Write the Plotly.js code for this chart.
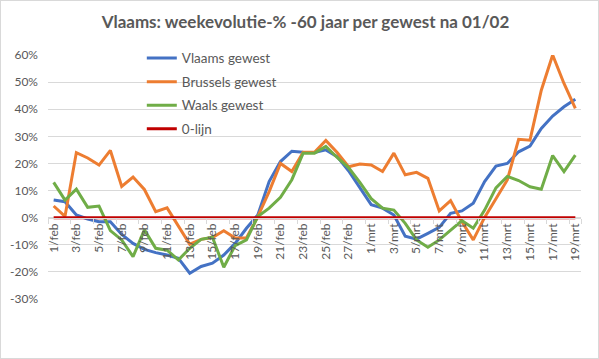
<!DOCTYPE html>
<html>
<head>
<meta charset="utf-8">
<script src="https://cdn.plot.ly/plotly-3.0.1.min.js"></script>
<style>
  html, body { margin: 0; padding: 0; background: #fff; }
  #wrap { position: relative; width: 599px; height: 359px; }
  #chart { width: 599px; height: 359px; }
  #frame { position: absolute; left: 0; top: 0; width: 599px; height: 359px; box-sizing: border-box; border: 1px solid #d9d9d9; pointer-events: none; }
</style>
</head>
<body>
<div id="wrap"><div id="chart"></div><div id="frame"></div></div>
<script>
const dates = ["1/feb","2/feb","3/feb","4/feb","5/feb","6/feb","7/feb","8/feb","9/feb","10/feb",
  "11/feb","12/feb","13/feb","14/feb","15/feb","16/feb","17/feb","18/feb","19/feb","20/feb",
  "21/feb","22/feb","23/feb","24/feb","25/feb","26/feb","27/feb","28/feb",
  "1/mrt","2/mrt","3/mrt","4/mrt","5/mrt","6/mrt","7/mrt","8/mrt","9/mrt","10/mrt",
  "11/mrt","12/mrt","13/mrt","14/mrt","15/mrt","16/mrt","17/mrt","18/mrt","19/mrt"];

const tickLabels = ["1/feb","3/feb","5/feb","7/feb","9/feb","11/feb","13/feb","15/feb","17/feb",
  "19/feb","21/feb","23/feb","25/feb","27/feb","1/mrt","3/mrt","5/mrt","7/mrt","9/mrt",
  "11/mrt","13/mrt","15/mrt","17/mrt","19/mrt"];

const vlaams = [6.5,5.9,1.0,-0.5,-1.5,-1.5,-6.2,-9.5,-11.7,-12.9,
  -13.8,-15.0,-20.5,-18.0,-16.8,-13.8,-9.5,-3.9,1.0,13.3,
  20.7,24.5,24.1,24.0,25.0,22.5,17.3,10.8,
  4.8,3.5,1.0,-6.8,-7.9,-5.8,-3.6,1.6,2.5,5.3,
  13.3,19.0,20.0,24.3,26.4,32.9,37.5,40.9,43.7];

const brussels = [4.3,0.5,24.0,22.0,19.4,24.8,11.5,15.0,10.4,2.2,
  3.6,-3.3,-9.8,-8.0,-7.3,-4.8,-7.5,-7.5,0.4,9.6,
  20.0,17.0,24.1,24.1,28.5,24.0,18.8,19.8,
  19.4,17.0,23.8,15.8,16.7,14.5,2.5,6.3,-1.5,-8.2,
  0.1,7.0,13.9,28.9,28.6,47.0,60.0,49.5,40.3];

const waals = [13.0,6.5,10.5,3.8,4.3,-4.8,-8.2,-14.4,-4.5,-11.3,
  -12.0,-15.6,-11.3,-8.0,-7.2,-18.3,-10.3,-8.2,0.4,3.5,
  7.5,14.0,23.8,23.8,26.3,22.2,18.5,13.0,
  7.0,3.5,2.8,-2.1,-8.2,-10.9,-8.2,-4.5,-1.1,-3.9,
  2.8,11.0,15.2,13.7,11.4,10.5,22.9,17.0,23.1];

const nulLijn = [0,0,0,0,0,0,0,0,0,0,0,0,0,0,0,0,0,0,0,0,0,0,0,0,0,0,0,0,
  0,0,0,0,0,0,0,0,0,0,0,0,0,0,0,0,0,0,0];

const yTicks = [-30,-20,-10,0,10,20,30,40,50,60];

const names = ["Vlaams gewest","Brussels gewest","Waals gewest","0-lijn"];
const series = [vlaams, brussels, waals, nulLijn];
const colors = ["#4472C4","#ED7D31","#70AD47","#C00000"];

const FONT = "Lato, 'Open Sans', sans-serif";
const GREY = "#595959";

const traces = series.map((s, k) => ({
  type: "scatter",
  mode: "lines",
  name: names[k],
  legendgroup: "g" + k,
  x: dates,
  y: s,
  line: { color: colors[k], width: 3 },
  hoverinfo: "skip"
}));

const layout = {
  width: 599,
  height: 359,
  margin: { l: 48, r: 18, t: 55, b: 60, pad: 0 },
  paper_bgcolor: "#ffffff",
  plot_bgcolor: "#ffffff",
  showlegend: true,
  title: {
    text: "Vlaams: weekevolutie-% -60 jaar per gewest na 01/02",
    font: { family: FONT, size: 17, color: GREY, weight: "bold" },
    x: 0.51, xref: "container", xanchor: "center",
    y: 1 - 22 / 359, yref: "container", yanchor: "middle"
  },
  xaxis: {
    type: "category",
    range: [-0.5, 46.5],
    anchor: "free",
    position: 1 / 3,
    tickmode: "array",
    tickvals: tickLabels,
    ticktext: tickLabels,
    tickson: "boundaries",
    tickangle: -90,
    ticks: "outside",
    ticklen: 5,
    tickcolor: "#d9d9d9",
    tickwidth: 1,
    showgrid: false,
    showline: true,
    linecolor: "#d9d9d9",
    linewidth: 1,
    zeroline: false,
    tickfont: { family: FONT, size: 12, color: GREY },
    fixedrange: true
  },
  yaxis: {
    range: [-30, 60],
    tickmode: "array",
    tickvals: yTicks,
    ticktext: yTicks.map(v => v + "%"),
    showgrid: true,
    gridcolor: "#d9d9d9",
    gridwidth: 1,
    zeroline: false,
    showline: false,
    ticks: "",
    ticklabelstandoff: 9,
    tickfont: { family: FONT, size: 12, color: GREY },
    fixedrange: true
  },
  legend: {
    x: 0.176, xref: "paper", xanchor: "left",
    y: 1.05, yref: "paper", yanchor: "top",
    traceorder: "grouped",
    tracegroupgap: 3,
    bgcolor: "rgba(0,0,0,0)",
    font: { family: FONT, size: 13.5, color: GREY }
  }
};

Plotly.newPlot("chart", traces, layout, { displayModeBar: false, staticPlot: true });
</script>
</body>
</html>
